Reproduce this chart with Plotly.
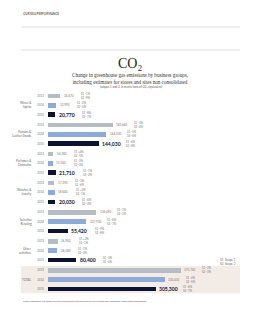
import plotly.graph_objects as go

# ---------------- data ----------------
groups = ["Wines &<br>Spirits", "Fashion &<br>Leather Goods", "Perfumes &<br>Cosmetics",
          "Watches &<br>Jewelry", "Selective<br>Retailing", "Other<br>activities", "TOTAL"]
years = ["2013", "2014", "2015"]
v2013 = [34470, 183640, 14280, 17290, 136490, 26900, 375740]
v2014 = [22990, 164030, 13100, 18640, 107930, 26300, 330430]
v2015 = [20770, 144030, 21710, 20030, 55420, 80400, 305300]
s1_change = [["-1%", "-2%", "-8%"], ["-3%", "-5%", "-6%"], ["+4%", "-2%", "-1%"],
             ["-3%", "+2%", "-4%"], ["-1%", "-6%", "-9%"], ["+2%", "-1%", "-3%"],
             ["-2%", "-4%", "-6%"]]
s2_change = [["-9%", "-5%", "-7%"], ["-4%", "-6%", "-8%"], ["-5%", "-3%", "-2%"],
             ["-6%", "-1%", "-3%"], ["-2%", "-7%", "-8%"], ["-1%", "-2%", "-4%"],
             ["-3%", "-5%", "-7%"]]
colors = ["#b5bcc3", "#8eaad8", "#0c1230"]

W, H = 261, 320
L, R, T, B = 48, 21, 90, 24
PW, PH = W - L - R, H - T - B
GSTEP = 3.1


def px(p):
    return (p - L) / PW


def py(p):
    return (H - B - p) / PH


values = [v2013, v2014, v2015]
fig = go.Figure()
ypos_all, ytext_all = [], []
for i, yr in enumerate(years):
    ys = [g * GSTEP + i for g in range(len(groups))]
    ypos_all += ys
    ytext_all += [yr] * len(groups)
    fig.add_trace(go.Bar(x=values[i], y=ys, orientation="h", width=0.5,
                         marker=dict(color=colors[i], line=dict(width=0)),
                         name=yr, showlegend=False, hoverinfo="skip"))

ann = []
for g, grp in enumerate(groups):
    for i in range(3):
        y = g * GSTEP + i
        v = values[i][g]
        bold = i == 2
        ann.append(dict(x=v, y=y, xref="x", yref="y", xanchor="left", yanchor="middle",
                        text=(f"<b>{v:,}</b>" if bold else f"{v:,}"), showarrow=False,
                        xshift=1.5,
                        font=dict(size=5 if bold else 3, family="Lato",
                                  color="#0c1230" if bold else "#777")))
        ann.append(dict(x=v, y=y, xref="x", yref="y", xanchor="left", yanchor="middle",
                        text=f"S1 {s1_change[g][i]}<br>S2 {s2_change[g][i]}",
                        showarrow=False, xshift=25 if bold else 19, align="left",
                        font=dict(size=2.9, family="Lato", color="#777")))
    ann.append(dict(x=px(34), y=g * GSTEP + 1, xref="paper", yref="y", xanchor="right",
                    yanchor="middle", text=grp, showarrow=False, align="right",
                    font=dict(size=3, family="Lato", color="#666")))

# titles / texts
ann += [
    dict(x=px(21), y=py(14), xref="paper", yref="paper", xanchor="left", yanchor="middle",
         text="<b>OUR ESG PERFORMANCE</b>", showarrow=False,
         font=dict(size=3, family="Lato", color="#666")),
    dict(x=px(130), y=py(63), xref="paper", yref="paper", xanchor="center", yanchor="middle",
         text="CO₂", showarrow=False,
         font=dict(size=14, family="Liberation Serif", color="#222")),
    dict(x=px(130), y=py(78), xref="paper", yref="paper", xanchor="center", yanchor="middle",
         text="Change in greenhouse gas emissions by business groups,<br>including estimates for stores and sites non consolidated",
         showarrow=False, font=dict(size=5.1, family="Liberation Serif", color="#333")),
    dict(x=px(131), y=py(86), xref="paper", yref="paper", xanchor="center", yanchor="middle",
         text="(scopes 1 and 2, in metric tons of CO₂ equivalent)", showarrow=False,
         font=dict(size=2.9, family="Lato", color="#555")),
    dict(x=px(218), y=py(261.5), xref="paper", yref="paper", xanchor="left", yanchor="middle",
         text="S1  Scope 1<br>S2  Scope 2", showarrow=False, align="left",
         font=dict(size=3, family="Lato", color="#666")),
    dict(x=px(21), y=py(301), xref="paper", yref="paper", xanchor="left", yanchor="middle",
         text="Some estimates are made for sites and stores not covered by environmental indicators reporting programmes.",
         showarrow=False, font=dict(size=2.6, family="Lato", color="#555")),
]

tot = (len(groups) - 1) * GSTEP + 1
shapes = [
    dict(type="line", xref="paper", yref="paper", x0=px(21), x1=px(240), y0=py(27), y1=py(27),
         line=dict(color="#d0d0d0", width=0.7)),
    dict(type="line", xref="paper", yref="paper", x0=px(21), x1=px(240), y0=py(50), y1=py(50),
         line=dict(color="#d0d0d0", width=0.7)),
    dict(type="rect", xref="paper", yref="y", x0=px(21), x1=px(240), y0=tot - 1.45, y1=tot + 1.45,
         fillcolor="#f3ece6", line=dict(width=0), layer="below"),
]

fig.update_layout(
    width=W, height=H, margin=dict(l=L, r=R, t=T, b=B, pad=0),
    paper_bgcolor="white", plot_bgcolor="rgba(0,0,0,0)",
    bargap=0, showlegend=False,
    xaxis=dict(range=[0, PW * 2827], visible=False, fixedrange=True),
    yaxis=dict(range=[tot + 1 + 0.75, -0.64], tickmode="array", tickvals=ypos_all,
               ticktext=ytext_all, showgrid=False, zeroline=False, showline=False,
               ticks="", ticklen=0, tickfont=dict(size=2.9, family="Lato", color="#777"),
               ticklabelstandoff=3),
    annotations=ann, shapes=shapes,
)

fig.write_html("out.html")
